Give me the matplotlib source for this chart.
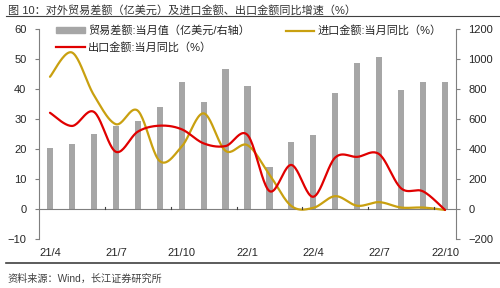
import numpy as np
import matplotlib
matplotlib.use("Agg")
import matplotlib.pyplot as plt
from matplotlib.lines import Line2D
from matplotlib.patches import Patch

plt.rcParams['font.family'] = ['Liberation Sans', 'Noto Sans CJK SC', 'DejaVu Sans']

# monthly data, 21/4 .. 22/10
months = ["21/4", "21/5", "21/6", "21/7", "21/8", "21/9", "21/10", "21/11", "21/12",
          "22/1", "22/2", "22/3", "22/4", "22/5", "22/6", "22/7", "22/8", "22/9", "22/10"]
tick_labels = ["21/4", "21/7", "21/10", "22/1", "22/4", "22/7", "22/10"]
trade_balance = [405, 431, 498, 553, 589, 678, 844, 713, 931,
                 822, 278, 444, 493, 773, 971, 1011, 793, 844, 849]
import_yoy = [44.1, 52.2, 38.0, 28.3, 32.8, 16.0, 20.8, 31.9, 19.4,
              21.3, 11.5, 1.0, 0.4, 4.3, 1.1, 2.3, 0.5, 0.5, -0.3]
export_yoy = [32.1, 27.7, 32.4, 19.1, 25.8, 27.8, 26.6, 21.9, 21.0,
              24.7, 6.0, 14.7, 4.1, 17.2, 17.4, 18.3, 6.9, 5.9, -0.3]

GRAY = "#A6A6A6"
GOLD = "#C9A010"
RED = "#E00000"
TXT = "#262626"


def smooth(x, y, n=24):
    """Excel-style smoothed line (cubic bezier through every point)."""
    x = np.asarray(x, float)
    y = np.asarray(y, float)
    px = np.concatenate([[x[0]], x, [x[-1]]])
    py = np.concatenate([[y[0]], y, [y[-1]]])
    xs, ys = [], []
    t = np.linspace(0, 1, n)
    for i in range(1, len(px) - 2):
        p0 = np.array([px[i], py[i]])
        p3 = np.array([px[i + 1], py[i + 1]])
        p1 = p0 + (np.array([px[i + 1], py[i + 1]]) - np.array([px[i - 1], py[i - 1]])) / 6
        p2 = p3 - (np.array([px[i + 2], py[i + 2]]) - np.array([px[i], py[i]])) / 6
        b = ((1 - t) ** 3)[:, None] * p0 + (3 * (1 - t) ** 2 * t)[:, None] * p1 \
            + (3 * (1 - t) * t ** 2)[:, None] * p2 + (t ** 3)[:, None] * p3
        xs.append(b[:, 0])
        ys.append(b[:, 1])
    return np.concatenate(xs), np.concatenate(ys)


fig = plt.figure(figsize=(5, 2.88), dpi=100)
ax = fig.add_axes([0.078, 0.170, 0.834, 0.729])
ax2 = ax.twinx()

x = np.arange(len(months))
ax2.bar(x, trade_balance, width=0.28, color=GRAY, zorder=1)

ax.set_zorder(ax2.get_zorder() + 1)
ax.patch.set_visible(False)
sx, sy = smooth(x, import_yoy)
ax.plot(sx, sy, color=GOLD, lw=1.6, solid_capstyle='round')
sx, sy = smooth(x, export_yoy)
ax.plot(sx, sy, color=RED, lw=1.6, solid_capstyle='round')

ax.set_xlim(-0.5, len(months) - 0.5)
ax.set_ylim(-10, 60)
ax2.set_ylim(-200, 1200)
ax.set_yticks(range(-10, 61, 10))
ax2.set_yticks(range(-200, 1201, 200))

for a in (ax, ax2):
    a.spines['top'].set_visible(False)
    a.spines['bottom'].set_visible(False)
    a.spines['left'].set_color("#7F7F7F")
    a.spines['right'].set_color("#7F7F7F")
    a.spines['left'].set_linewidth(0.8)
    a.spines['right'].set_linewidth(0.8)
ax.spines['right'].set_visible(False)
ax2.spines['left'].set_visible(False)
ax.tick_params(axis='y', direction='out', length=3, width=0.8, color="#7F7F7F",
               labelsize=8, labelcolor=TXT, pad=6)
ax2.tick_params(axis='y', direction='out', length=3, width=0.8, color="#7F7F7F",
                labelsize=8, labelcolor=TXT, pad=6)

# zero axis with ticks on category boundaries
ax.axhline(0, color="#7F7F7F", lw=0.8, zorder=0)
ax.set_xticks([])
for b in np.arange(2.5, len(months) - 1, 3):
    ax.plot([b, b], [0, 0.8], color="#404040", lw=0.8)
for lab in tick_labels:
    i = months.index(lab)
    ax.text(i, -0.065, lab, transform=ax.get_xaxis_transform(), ha='center', va='center',
            fontsize=8, color=TXT)

handles = [Patch(color=GRAY), Line2D([], [], color=RED, lw=1.6), Line2D([], [], color=GOLD, lw=1.6)]
labels = ["贸易差额:当月值（亿美元/右轴）", "出口金额:当月同比（%）", "进口金额:当月同比（%）"]
leg = ax.legend(handles, labels, ncol=2, loc='upper left', bbox_to_anchor=(0.03, 1.04),
                frameon=False, fontsize=8, handlelength=2.6, handleheight=0.4,
                handletextpad=0.3, columnspacing=3.2, labelspacing=0.5, borderaxespad=0)
for t in leg.get_texts():
    t.set_color(TXT)

# title and source
fig.text(0.016, 1 - 10 / 288, "图 10：对外贸易差额（亿美元）及进口金额、出口金额同比增速（%）",
         ha='left', va='center', fontsize=8, color="#333333")
fig.add_artist(Line2D([0.012, 1.0], [1 - 15.5 / 288] * 2, color="#404040", lw=0.8))
fig.add_artist(Line2D([0.012, 1.0], [1 - 262.7 / 288] * 2, color="#404040", lw=1.2))
fig.text(0.014, 1 - 279 / 288, "资料来源：Wind，长江证券研究所",
         ha='left', va='center', fontsize=7.3, color="#404040")

fig.savefig("out.png", dpi=100)
